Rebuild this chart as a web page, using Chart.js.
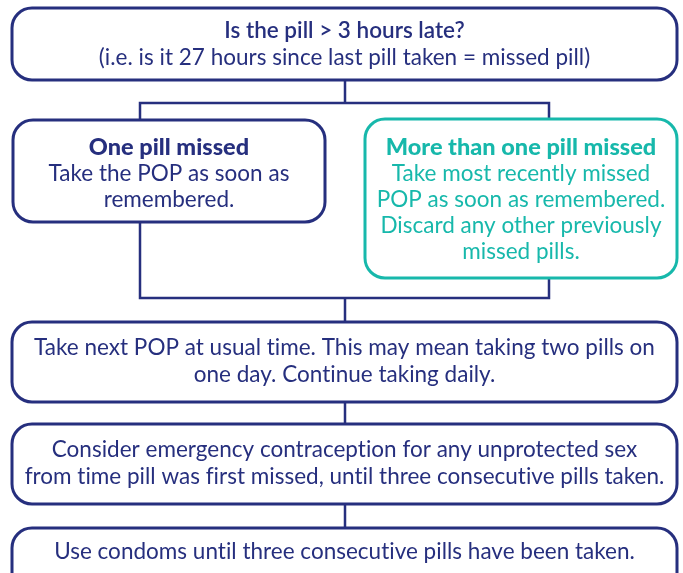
<!DOCTYPE html>
<html>
<head>
<meta charset="utf-8">
<script src="https://cdn.jsdelivr.net/npm/chart.js@4/dist/chart.umd.min.js"></script>
<style>
  html, body { margin: 0; padding: 0; background: #fff; }
  #wrap { width: 683px; height: 573px; position: relative; }
</style>
</head>
<body>
<div id="wrap"><canvas id="flow"></canvas></div>
<script>
// texts of the flowchart
const questionTitle = 'Is the pill > 3 hours late?';
const questionNote = '(i.e. is it 27 hours since last pill taken = missed pill)';
const branchTitles = ['One pill missed', 'More than one pill missed'];
const branchLines = [
  ['Take the POP as soon as', 'remembered.'],
  ['Take most recently missed', 'POP as soon as remembered.', 'Discard any other previously', 'missed pills.']
];
const stepLines = [
  ['Take next POP at usual time. This may mean taking two pills on', 'one day. Continue taking daily.'],
  ['Consider emergency contraception for any unprotected sex', 'from time pill was first missed, until three consecutive pills taken.'],
  ['Use condoms until three consecutive pills have been taken.']
];

const NAVY = '#262f7e';
const TEAL = '#17b8ab';
const FONT = 'Lato, "Open Sans", sans-serif';

// layout in chart units (x 0..683, y 0..573 top-down)
const boxes = [
  { x0: 12, y0: 8, x1: 677, y1: 80, color: NAVY, title: questionTitle, titleFont: '600 22.5px', lines: [questionNote], ty: 31 },
  { x0: 13, y0: 120, x1: 325, y1: 222, color: NAVY, title: branchTitles[0], titleFont: '900 23.5px', lines: branchLines[0], ty: 147 },
  { x0: 365, y0: 119, x1: 677, y1: 278, color: TEAL, title: branchTitles[1], titleFont: '900 23.5px', lines: branchLines[1], ty: 147 },
  { x0: 12, y0: 322, x1: 677, y1: 402, color: NAVY, lines: stepLines[0], ty: 348 },
  { x0: 12, y0: 424, x1: 677, y1: 504, color: NAVY, lines: stepLines[1], ty: 450 },
  { x0: 12, y0: 528, x1: 677, y1: 610, color: NAVY, lines: stepLines[2], ty: 552 }
];
const lineGap = 26.3;

const connectors = [
  [{x: 345, y: 80}, {x: 345, y: 103}],
  [{x: 140, y: 120}, {x: 140, y: 103}, {x: 549, y: 103}, {x: 549, y: 119}],
  [{x: 140, y: 222}, {x: 140, y: 298}, {x: 549, y: 298}, {x: 549, y: 278}],
  [{x: 345, y: 298}, {x: 345, y: 322}],
  [{x: 345, y: 402}, {x: 345, y: 424}],
  [{x: 345, y: 504}, {x: 345, y: 528}]
];

const boxPlugin = {
  id: 'boxes',
  afterDatasetsDraw(chart) {
    const ctx = chart.ctx;
    const xs = chart.scales.x, ys = chart.scales.y;
    ctx.save();
    boxes.forEach(b => {
      const left = xs.getPixelForValue(b.x0), right = xs.getPixelForValue(b.x1);
      const top = ys.getPixelForValue(b.y0), bottom = ys.getPixelForValue(b.y1);
      ctx.beginPath();
      ctx.roundRect(left, top, right - left, bottom - top, 20);
      ctx.fillStyle = '#fff';
      ctx.fill();
      ctx.lineWidth = 3;
      ctx.strokeStyle = b.color;
      ctx.stroke();

      const cx = (left + right) / 2;
      let y = b.ty;
      ctx.fillStyle = b.color;
      ctx.textAlign = 'center';
      ctx.textBaseline = 'middle';
      ctx.letterSpacing = '0.01px'; // keeps "ti" from turning into a ligature
      if (b.title) {
        ctx.font = b.titleFont + ' ' + FONT;
        ctx.fillText(b.title, cx, ys.getPixelForValue(y));
        y += lineGap;
      }
      ctx.font = '400 22.5px ' + FONT;
      b.lines.forEach(t => {
        ctx.fillText(t, cx, ys.getPixelForValue(y));
        y += lineGap;
      });
    });
    ctx.restore();
  }
};

new Chart(document.getElementById('flow'), {
  type: 'scatter',
  data: {
    datasets: connectors.map(pts => ({
      data: pts,
      showLine: true,
      borderColor: NAVY,
      borderWidth: 2.5,
      pointRadius: 0,
      fill: false,
      tension: 0
    }))
  },
  options: {
    responsive: true,
    maintainAspectRatio: false,
    animation: false,
    layout: { padding: 0 },
    plugins: { legend: { display: false }, tooltip: { enabled: false } },
    scales: {
      x: { type: 'linear', min: 0, max: 683, display: false },
      y: { type: 'linear', min: 0, max: 573, reverse: true, display: false }
    }
  },
  plugins: [boxPlugin]
});
</script>
</body>
</html>
